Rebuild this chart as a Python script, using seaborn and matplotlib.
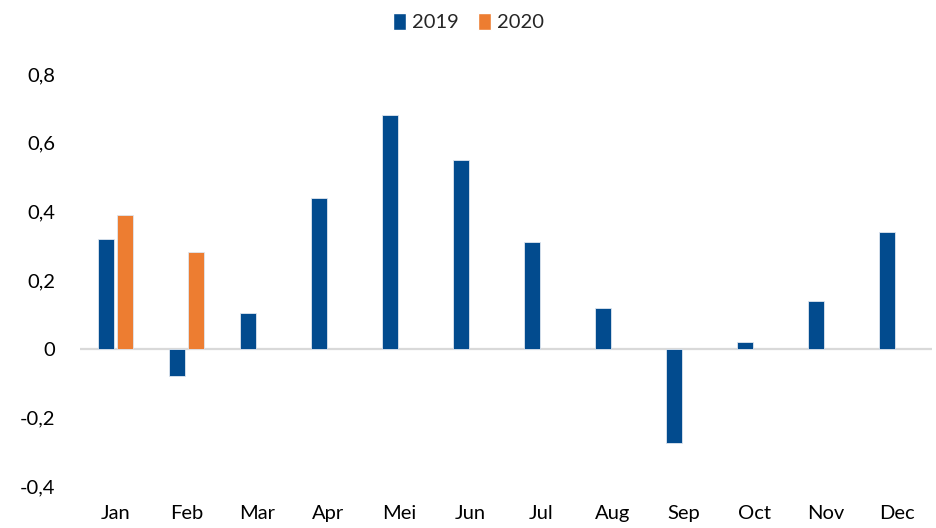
import matplotlib
matplotlib.use("Agg")
import matplotlib.pyplot as plt
import seaborn as sns
import pandas as pd
import numpy as np
from matplotlib.patches import Patch

months = ["Jan", "Feb", "Mar", "Apr", "Mei", "Jun", "Jul", "Aug", "Sep", "Oct", "Nov", "Dec"]
v2019 = [0.32, -0.08, 0.105, 0.44, 0.68, 0.55, 0.31, 0.117, -0.275, 0.02, 0.14, 0.34]
v2020 = [0.39, 0.283, np.nan, np.nan, np.nan, np.nan, np.nan, np.nan, np.nan, np.nan, np.nan, np.nan]
years = ["2019", "2020"]
colors = ["#024b8e", "#ed7d31"]
yticks = [-0.4, -0.2, 0, 0.2, 0.4, 0.6, 0.8]
ytick_labels = ["-0,4", "-0,2", "0", "0,2", "0,4", "0,6", "0,8"]

df = pd.DataFrame({
    "month": months * 2,
    "year": [years[0]] * len(months) + [years[1]] * len(months),
    "value": v2019 + v2020,
})

sns.set_theme(style="white")
plt.rcParams["font.family"] = ["Lato", "DejaVu Sans"]

fig = plt.figure(figsize=(9.37, 5.28), dpi=100)
ax = fig.add_axes([80 / 937, 42 / 528, 852 / 937, 412 / 528])

sns.barplot(data=df, x="month", y="value", hue="year", order=months, hue_order=years,
            palette=colors, width=0.56, gap=0.2, ax=ax, legend=False, errorbar=None,
            saturation=1, linewidth=0.6, edgecolor="#dfe6ef")

ax.set_ylim(-0.4, 0.8)
ax.set_xlim(-0.5, 11.5)
ax.set_yticks(yticks)
ax.set_yticklabels(ytick_labels)
ax.axhline(0, color="#d9d9d9", lw=1.6, zorder=0.5)
for s in ax.spines.values():
    s.set_visible(False)
ax.set_xlabel("")
ax.set_ylabel("")
ax.tick_params(axis="y", length=0, pad=18, labelsize=14.5, labelcolor="#000000")
ax.tick_params(axis="x", length=0, pad=14, labelsize=14.5, labelcolor="#000000")

handles = [Patch(facecolor=c, label=y) for c, y in zip(colors, years)]
fig.legend(handles=handles, loc="center", bbox_to_anchor=(0.5, 1 - 22 / 528), ncol=2,
           frameon=False, fontsize=14.5, handlelength=0.6, handleheight=0.9,
           handletextpad=0.3, columnspacing=1.0)

fig.savefig("out.png", dpi=100)
